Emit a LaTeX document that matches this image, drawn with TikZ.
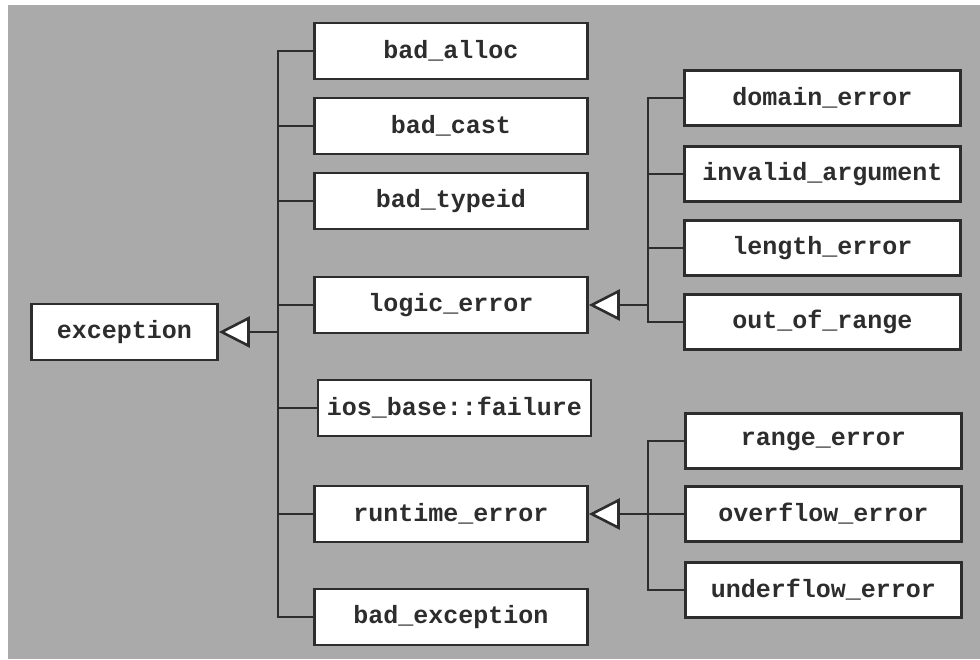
\documentclass[tikz,border=0pt]{standalone}
\usepackage{fontspec}
\newfontfamily\clsfont{Liberation Mono}
\usetikzlibrary{arrows.meta}
\definecolor{bggray}{RGB}{170,170,170}
\definecolor{ink}{RGB}{45,45,45}
\tikzset{
  cls/.style={draw=ink, fill=white, line width=2.6pt, inner sep=0pt, text=ink,
    font=\clsfont\bfseries\fontsize{25}{30}\selectfont},
  midbox/.style={cls, minimum width=273pt, minimum height=56pt},
  subbox/.style={cls, minimum width=276pt, minimum height=55pt},
  edge/.style={draw=ink, line width=2.6pt},
  isa/.style={edge, -{Triangle[length=31pt,width=31pt,fill=white,line join=miter]}},
}
\begin{document}
\begin{tikzpicture}[x=1pt,y=-1pt]
\fill[white] (0,0) rectangle (980,659);
\useasboundingbox (0,0) rectangle (980,659);
\fill[bggray] (8,5) rectangle (980,659); % grey card

\node[cls, minimum width=186pt, minimum height=56pt] (exception) at (124.5,332) {exception};
\foreach \n/\x/\y/\t in {alloc/451/51/bad\_alloc, cast/451/126/bad\_cast,
  typeid/451/201/bad\_typeid, logic/451/305/logic\_error,
  ios/454.5/408/ios\_base::failure, runtime/451/514/runtime\_error,
  badexc/451/617/bad\_exception} % edit here for the middle column
\node[midbox] (\n) at (\x,\y) {\t};
\foreach \n/\y/\t in {domain/98/domain\_error, invalid/174/invalid\_argument,
  length/248/length\_error, outrange/322/out\_of\_range} % edit here for logic_error's children
\node[subbox] (\n) at (822.5,\y) {\t};
\foreach \n/\y/\t in {range/441/range\_error, overflow/514/overflow\_error,
  underflow/590/underflow\_error} % edit here for runtime_error's children
\node[subbox] (\n) at (823.5,\y) {\t};

\coordinate (trunk) at (278,332);
\coordinate (logicbr) at (648,305);
\coordinate (runbr) at (648,514);

\foreach \n in {alloc,cast,typeid,logic,ios,runtime,badexc}
\draw[edge] (\n.west) -| (trunk);
\foreach \n in {domain,invalid,length,outrange}
\draw[edge] (\n.west) -| (logicbr);
\foreach \n in {range,overflow,underflow}
\draw[edge] (\n.west) -| (runbr);

\draw[isa] (trunk) -- (exception.east);
\draw[isa] (logicbr) -- (logic.east);
\draw[isa] (runbr) -- (runtime.east);
\end{tikzpicture}
\end{document}
